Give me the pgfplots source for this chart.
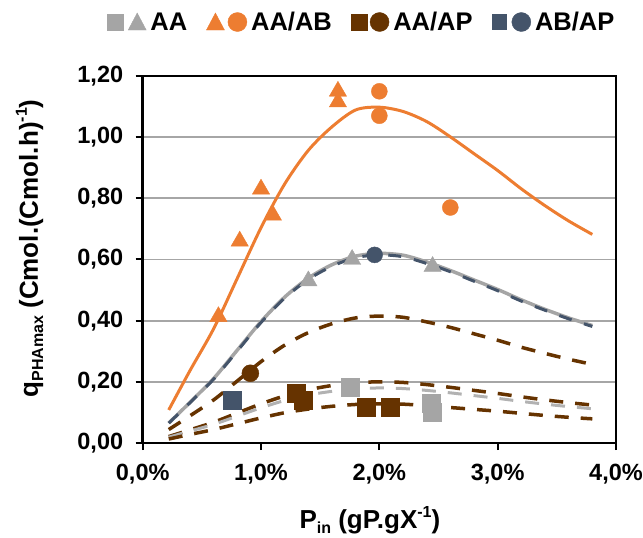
\documentclass[border=0pt]{standalone}
\usepackage{fontspec}
\setmainfont{Liberation Sans}
\usepackage{pgfplots}
\pgfplotsset{compat=1.18}
\definecolor{cOr}{HTML}{ED7D31}
\definecolor{cGr}{HTML}{A5A5A5}
\definecolor{cBr}{HTML}{663300}
\definecolor{cBl}{HTML}{44546A}
\definecolor{cGrid}{HTML}{A6A6A6}
\newcommand{\tickf}{\fontsize{23.5}{27}\selectfont\bfseries}
\newcommand{\labf}{\fontsize{26}{30}\selectfont\bfseries}
\newcommand{\legf}{\fontsize{25.5}{30}\selectfont\bfseries}
\newcommand{\smallf}{\fontsize{16}{16}\selectfont}
\begin{document}
\begin{tikzpicture}
\begin{axis}[
  scale only axis, width=473.3pt, height=367pt,
  xmin=0, xmax=4, ymin=0, ymax=1.2,
  xtick={0,1,2,3,4}, ytick={0,0.2,0.4,0.6,0.8,1.0,1.2},
  ymajorgrids, grid style={cGrid, line width=1.8pt},
  axis line style={line width=2.5pt, black},
  every tick/.style={line width=2pt, black},
  major tick length=7pt,
  tick align=outside, tick pos=left,
  ticklabel style={font=\tickf},
  yticklabel style={xshift=-9pt},
  xticklabel style={yshift=-11pt},
  yticklabel={\pgfmathprintnumber[fixed,fixed zerofill,precision=2,use comma,assume math mode=true]{\tick}},
  xticklabel={\pgfmathprintnumber[fixed,fixed zerofill,precision=1,use comma,assume math mode=true]{\tick}\%},
  xlabel={P\raisebox{-0.4ex}{\smallf in} (gP.gX\raisebox{0.8ex}{\smallf -1})},
  ylabel={q\raisebox{-0.4ex}{\smallf PHAmax} (Cmol.(Cmol.h)\raisebox{0.8ex}{\smallf -1})},
  label style={font=\labf},
  xlabel style={at={(axis description cs:0.48,-0.2325)}, anchor=base},
  ylabel style={at={(axis description cs:-0.239,0.53)}, anchor=center},
  legend style={at={(axis description cs:-0.0754,1.1471)}, anchor=west, draw=none, fill=none,
    inner sep=0pt, outer sep=0pt, font=\legf, nodes={inner sep=0pt},
    /tikz/every odd column/.append style={column sep=4pt},
    /tikz/every even column/.append style={column sep=19pt}},
  legend columns=4,
]
% fitted curves
\addplot[forget plot, cOr, line width=3pt, smooth] coordinates {
(0.22,0.108)(0.4,0.237)(0.6,0.374)(0.8,0.539)(1.0,0.704)(1.2,0.847)(1.4,0.957)(1.6,1.034)(1.8,1.089)(2.0,1.098)(2.2,1.084)(2.4,1.051)(2.6,1.001)(2.8,0.946)(3.0,0.891)(3.2,0.831)(3.4,0.776)(3.6,0.726)(3.8,0.682)};
\addplot[forget plot, cGr, line width=3.5pt, smooth] coordinates {
(0.22,0.065)(0.4,0.133)(0.6,0.211)(0.8,0.304)(1.0,0.397)(1.2,0.477)(1.4,0.539)(1.6,0.583)(1.8,0.611)(2.0,0.620)(2.2,0.614)(2.4,0.592)(2.6,0.564)(2.8,0.533)(3.0,0.502)(3.2,0.468)(3.4,0.437)(3.6,0.409)(3.8,0.384)};
\addplot[forget plot, cBl, line width=3pt, smooth, dash pattern=on 13pt off 13pt] coordinates {
(0.22,0.065)(0.4,0.132)(0.6,0.209)(0.8,0.301)(1.0,0.394)(1.2,0.474)(1.4,0.535)(1.6,0.578)(1.8,0.606)(2.0,0.615)(2.2,0.609)(2.4,0.587)(2.6,0.560)(2.8,0.529)(3.0,0.498)(3.2,0.464)(3.4,0.434)(3.6,0.406)(3.8,0.381)};
\addplot[forget plot, cBr, line width=3.5pt, smooth, dash pattern=on 14pt off 12pt] coordinates {
(0.22,0.044)(0.4,0.089)(0.6,0.141)(0.8,0.203)(1.0,0.266)(1.2,0.320)(1.4,0.361)(1.6,0.390)(1.8,0.409)(2.0,0.415)(2.2,0.411)(2.4,0.396)(2.6,0.378)(2.8,0.357)(3.0,0.336)(3.2,0.313)(3.4,0.293)(3.6,0.274)(3.8,0.257)};
\addplot[forget plot, cBr, line width=3.5pt, smooth, dash pattern=on 14pt off 12pt] coordinates {
(0.22,0.021)(0.4,0.043)(0.6,0.068)(0.8,0.098)(1.0,0.128)(1.2,0.154)(1.4,0.174)(1.6,0.188)(1.8,0.197)(2.0,0.200)(2.2,0.198)(2.4,0.191)(2.6,0.182)(2.8,0.172)(3.0,0.162)(3.2,0.151)(3.4,0.141)(3.6,0.132)(3.8,0.124)};
\addplot[forget plot, cGr!85, line width=3pt, smooth, dash pattern=on 14pt off 12pt] coordinates {
(0.22,0.019)(0.4,0.039)(0.6,0.061)(0.8,0.088)(1.0,0.115)(1.2,0.139)(1.4,0.157)(1.6,0.169)(1.8,0.177)(2.0,0.180)(2.2,0.178)(2.4,0.172)(2.6,0.164)(2.8,0.155)(3.0,0.146)(3.2,0.136)(3.4,0.127)(3.6,0.119)(3.8,0.112)};
\addplot[forget plot, cBr, line width=3.5pt, smooth, dash pattern=on 14pt off 12pt] coordinates {
(0.22,0.013)(0.4,0.028)(0.6,0.044)(0.8,0.063)(1.0,0.082)(1.2,0.099)(1.4,0.111)(1.6,0.120)(1.8,0.126)(2.0,0.128)(2.2,0.127)(2.4,0.122)(2.6,0.116)(2.8,0.110)(3.0,0.104)(3.2,0.097)(3.4,0.090)(3.6,0.084)(3.8,0.079)};
% data marks
\addplot[forget plot, only marks, mark=triangle*, mark size=10pt, color=cOr] coordinates {
(0.64,0.413)(0.82,0.66)(1.00,0.83)(1.10,0.745)(1.65,1.15)(1.65,1.115)};
\addplot[forget plot, only marks, mark=*, mark size=8pt, color=cOr] coordinates {
(2.0,1.15)(2.0,1.07)(2.6,0.77)};
\addplot[forget plot, only marks, mark=triangle*, mark size=10pt, color=cGr] coordinates {
(1.40,0.53)(1.77,0.60)(2.45,0.577)};
\addplot[forget plot, only marks, mark=square*, mark size=9pt, color=cGr] coordinates {
(1.75,0.184)(2.44,0.13)(2.45,0.10)};
\addplot[forget plot, only marks, mark=square*, mark size=9pt, color=cBr] coordinates {
(1.30,0.162)(1.36,0.14)(1.89,0.118)(2.09,0.116)};
\addplot[forget plot, only marks, mark=*, mark size=8.5pt, color=cBr] coordinates {
(0.91,0.228)};
\addplot[forget plot, only marks, mark=square*, mark size=9pt, color=cBl] coordinates {
(0.76,0.14)};
\addplot[forget plot, only marks, mark=*, mark size=8pt, color=cBl] coordinates {
(1.96,0.615)};
% legend
\addlegendimage{legend image code/.code={
  \fill[cGr] (0pt,-8pt) rectangle (16pt,8pt);
  \fill[cGr] (21pt,-8pt) -- (39pt,-8pt) -- (30pt,9pt) -- cycle;}}
\addlegendentry{AA}
\addlegendimage{legend image code/.code={
  \fill[cOr] (0pt,-8pt) -- (18pt,-8pt) -- (9pt,9pt) -- cycle;
  \fill[cOr] (31pt,0pt) circle (9.5pt);}}
\addlegendentry{AA/AB}
\addlegendimage{legend image code/.code={
  \fill[cBr] (0pt,-8pt) rectangle (16pt,8pt);
  \fill[cBr] (28.5pt,0pt) circle (9.5pt);}}
\addlegendentry{AA/AP}
\addlegendimage{legend image code/.code={
  \fill[cBl] (0pt,-7.5pt) rectangle (14pt,7.5pt);
  \fill[cBl] (29.5pt,0pt) circle (9.5pt);}}
\addlegendentry{AB/AP}
\end{axis}
\pgfresetboundingbox
\path[use as bounding box] (-142.7pt,-95pt) rectangle (500.3pt,443pt);
\end{tikzpicture}
\end{document}
